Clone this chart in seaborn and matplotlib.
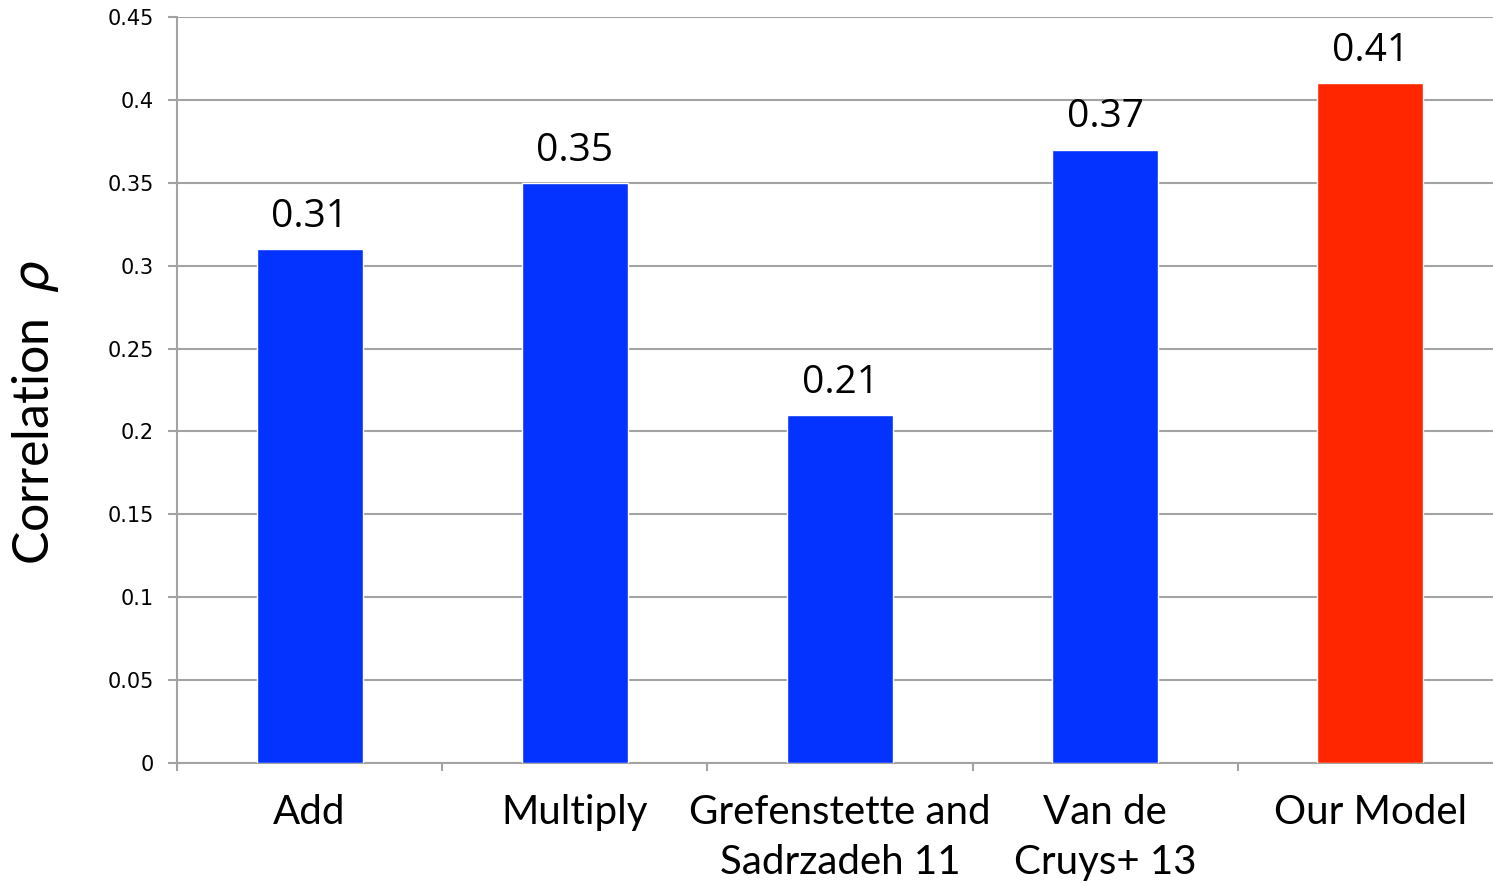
import numpy as np
import pandas as pd
import seaborn as sns
import matplotlib
matplotlib.use("Agg")
import matplotlib.pyplot as plt

# Correlation results per model
models = ["Add", "Multiply", "Grefenstette and\nSadrzadeh 11", "Van de\nCruys+ 13", "Our Model"]
scores = [0.31, 0.35, 0.21, 0.37, 0.41]
bar_colors = ["#0433FF", "#0433FF", "#0433FF", "#0433FF", "#FF2600"]
y_ticks = [0, 0.05, 0.1, 0.15, 0.2, 0.25, 0.3, 0.35, 0.4, 0.45]
y_tick_labels = ["0", "0.05", "0.1", "0.15", "0.2", "0.25", "0.3", "0.35", "0.4", "0.45"]

sns.set_theme(style="white")
plt.rcParams["font.family"] = ["DejaVu Sans"]

W, H, DPI = 1493, 885, 100
fig = plt.figure(figsize=(W / DPI, H / DPI), dpi=DPI)
# Plot area runs slightly past the right edge of the canvas
ax = fig.add_axes([177 / W, 1 - 763 / H, 1326 / W, (763 - 17) / H])

df = pd.DataFrame({"model": models, "score": scores})
sns.barplot(data=df, x="model", y="score", hue="model", palette=bar_colors,
            width=0.4, legend=False, ax=ax, saturation=1, zorder=3)

grid_color = "#A3A3A3"
ax.set_ylim(0, 0.45)
ax.set_xlim(-0.5, len(models) - 0.5)
ax.set_yticks(y_ticks)
ax.set_yticklabels(y_tick_labels, fontsize=15, color="black")
ax.yaxis.grid(True, color=grid_color, linewidth=1.5, zorder=0)
ax.set_axisbelow(True)

for side in ["top", "right"]:
    ax.spines[side].set_visible(False)
for side in ["left", "bottom"]:
    ax.spines[side].set_color(grid_color)
    ax.spines[side].set_linewidth(1.5)

ax.tick_params(axis="y", which="major", direction="out", length=6.5, width=1.5,
               color=grid_color, pad=10, left=True)
# Category labels without ticks; boundary ticks as minor ticks
ax.set_xticks(range(len(models)))
ax.set_xticklabels(models, fontsize=29, family="Lato", color="black", linespacing=1.45)
ax.tick_params(axis="x", which="major", length=0, pad=22)
ax.set_xticks(np.arange(-0.5, len(models), 1.0), minor=True)
ax.tick_params(axis="x", which="minor", direction="out", length=6, width=1.5,
               color=grid_color, bottom=True)

ax.set_xlabel("")
ax.set_ylabel("")

# Value labels above each bar
for i, v in enumerate(scores):
    ax.annotate(f"{v:.2f}", xy=(i, v), xytext=(0, 16), textcoords="offset points",
                ha="center", va="baseline", fontsize=28, family="Open Sans", color="black")

fig.text(36 / W, 1 - 412 / H, r"Correlation  $\rho$", rotation=90, ha="center", va="center",
         fontsize=36, family="Lato", color="black")

fig.savefig("out.png", dpi=DPI)
